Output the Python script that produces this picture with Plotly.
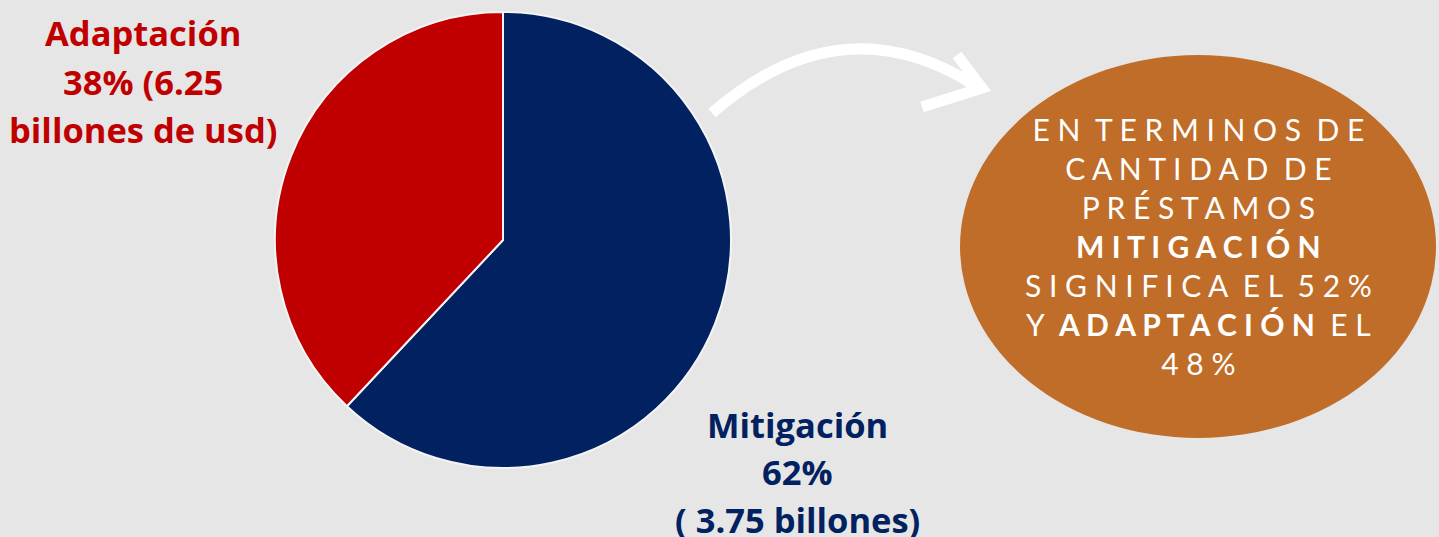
import plotly.graph_objects as go

W, H = 1439, 537

# ---- data ----
categories = ["Mitigación", "Adaptación"]
shares = [62, 38]
slice_colors = ["#012160", "#C00000"]

mit_label_lines = ["Mitigación", "62%", "( 3.75 billones)"]
ada_label_lines = ["Adaptación", "38% (6.25", "billones de usd)"]

note_lines = [
    ("EN TERMINOS DE", False),
    ("CANTIDAD DE", False),
    ("PRÉSTAMOS", False),
    ("MITIGACIÓN", True),
    ("SIGNIFICA EL 52%", False),
    ("Y |ADAPTACIÓN| EL", None),
    ("48%", False),
]


def px(x):
    return x / W


def py(y):
    return 1 - y / H


NB = "\u00a0"
WG = NB * 2


def spaced(s):
    words = s.split(" ")
    return WG.join(NB.join(list(w)) for w in words)


def note_line(s, bold):
    if bold is None:
        parts = s.split("|")
        out = []
        for i, p in enumerate(parts):
            t = spaced(p.strip())
            if i == 1:
                t = "<b>" + t + "</b>"
            out.append(t)
        return WG.join(out)
    t = spaced(s)
    return "<b>" + t + "</b>" if bold else t


fig = go.Figure()

cx, cy, r = 503, 240, 228
fig.add_trace(go.Pie(
    labels=categories,
    values=shares,
    sort=False,
    direction="clockwise",
    rotation=0,
    marker=dict(colors=slice_colors, line=dict(color="#F4F4F4", width=2)),
    textinfo="none",
    hoverinfo="label+percent",
    showlegend=False,
    domain=dict(x=[px(cx - r), px(cx + r)], y=[py(cy + r), py(cy - r)]),
))

shapes = []
# orange ellipse
shapes.append(dict(type="circle", xref="paper", yref="paper",
                   x0=px(960), x1=px(1436), y0=py(438), y1=py(55),
                   fillcolor="#BF6D28", line=dict(width=0), layer="below"))


def P(x, y):
    return f"{px(x):.5f},{py(y):.5f}"


# curved arrow
shapes.append(dict(type="path", xref="paper", yref="paper",
                   path=f"M {P(712,113)} Q {P(842,0)} {P(976,86)}",
                   line=dict(color="white", width=11)))
shapes.append(dict(type="path", xref="paper", yref="paper",
                   path=f"M {P(957,55)} L {P(982,88)} L {P(922,107)}",
                   line=dict(color="white", width=11)))

annotations = []
for t, y in zip(ada_label_lines, [33, 81, 130]):
    annotations.append(dict(x=px(143), y=py(y), xref="paper", yref="paper",
                            text=t, showarrow=False, xanchor="center", yanchor="middle",
                            font=dict(family="Open Sans", size=34.5, color="#C00000", weight=700)))
for t, y in zip(mit_label_lines, [424, 471, 519]):
    annotations.append(dict(x=px(798), y=py(y), xref="paper", yref="paper",
                            text=t, showarrow=False, xanchor="center", yanchor="middle",
                            font=dict(family="Open Sans", size=34.5, color="#012160", weight=700)))

note_text = "<br>".join(note_line(s, b) for s, b in note_lines)
annotations.append(dict(x=px(1198), y=py(246), xref="paper", yref="paper",
                        text=note_text, showarrow=False, xanchor="center", yanchor="middle",
                        align="center",
                        font=dict(family="Lato", size=30, color="white")))

fig.update_layout(
    width=W, height=H,
    margin=dict(l=0, r=0, t=0, b=0),
    paper_bgcolor="#E6E6E6",
    plot_bgcolor="#E6E6E6",
    shapes=shapes,
    annotations=annotations,
)

fig.write_html("out.html", config={"displayModeBar": False},
               post_script="document.body.style.margin='0';document.body.style.overflow='hidden';")
